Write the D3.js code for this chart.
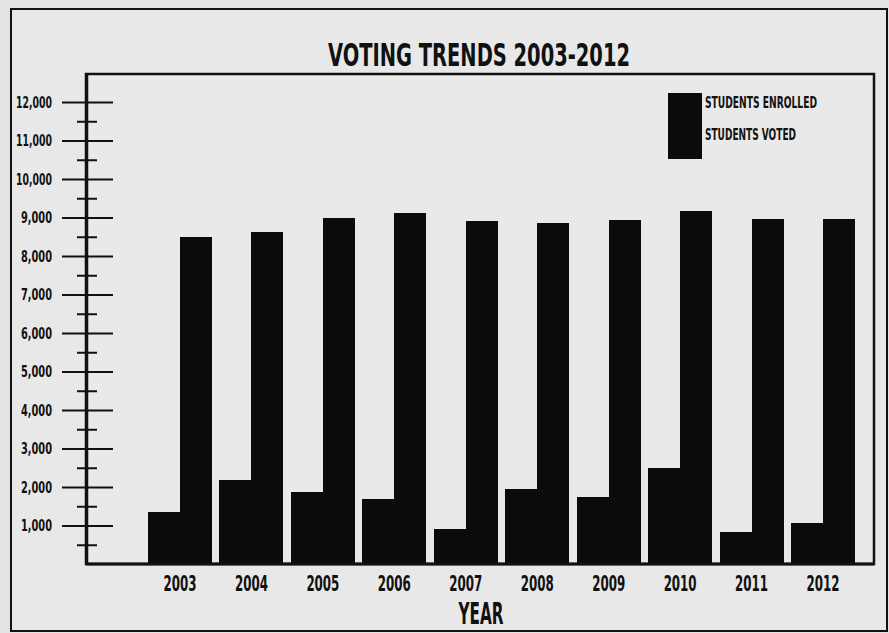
<!DOCTYPE html>
<html>
<head>
<meta charset="utf-8">
<script src="https://cdn.jsdelivr.net/npm/d3@7/dist/d3.min.js"></script>
<style>
  html, body { margin: 0; padding: 0; background: #e3e3e3; }
  svg { display: block; }
  text { font-family: 'Liberation Sans Narrow', 'DejaVu Sans Condensed', 'Roboto', sans-serif; font-weight: bold; fill: #111; }
</style>
</head>
<body>
<script>
// ---- data ----
const years = ["2003","2004","2005","2006","2007","2008","2009","2010","2011","2012"];
const studentsVoted    = [1350, 2180, 1870, 1690, 910, 1950, 1740, 2490, 830, 1065];
const studentsEnrolled = [8490, 8615, 8995, 9110, 8910, 8850, 8935, 9170, 8960, 8960];
const seriesNames = ["STUDENTS ENROLLED", "STUDENTS VOTED"];
const majorTicks = [1000,2000,3000,4000,5000,6000,7000,8000,9000,10000,11000,12000];
const minorTicks = [500,1500,2500,3500,4500,5500,6500,7500,8500,9500,10500,11500];
const title = "VOTING TRENDS 2003-2012";
const xTitle = "YEAR";

const W = 889, H = 633;
const svg = d3.select("body").append("svg").attr("width", W).attr("height", H);

// paper background
svg.append("rect").attr("width", W).attr("height", H).attr("fill", "#e3e3e3");

// outer border
svg.append("rect").attr("x", 11).attr("y", 9).attr("width", 876).attr("height", 622)
  .attr("fill", "#e8e8e8").attr("stroke", "#111").attr("stroke-width", 2);

// plot frame
const plot = {x0: 86, x1: 874, y0: 74, y1: 564};
svg.append("rect").attr("x", plot.x0).attr("y", plot.y0)
  .attr("width", plot.x1 - plot.x0).attr("height", plot.y1 - plot.y0)
  .attr("fill", "#e9e9e9").attr("stroke", "#111").attr("stroke-width", 2.5);

// scales
const y = d3.scaleLinear().domain([0, 12000]).range([564, 102]);
const x = d3.scaleBand().domain(years).range([144.25, 858.75]).paddingInner(0.105).paddingOuter(0.0525);
const xs = d3.scaleBand().domain(["voted", "enrolled"]).range([0, x.bandwidth()]).padding(0);

// bars
const rows = years.map((yr, i) => ({year: yr, voted: studentsVoted[i], enrolled: studentsEnrolled[i]}));
const g = svg.append("g").attr("shape-rendering", "crispEdges");
rows.forEach(r => {
  ["voted", "enrolled"].forEach(k => {
    g.append("rect")
      .attr("x", x(r.year) + xs(k))
      .attr("y", y(r[k]))
      .attr("width", xs.bandwidth() + (k === "voted" ? 1.5 : 0))
      .attr("height", y(0) - y(r[k]))
      .attr("fill", "#0b0b0b");
  });
});

// baseline
svg.append("line").attr("x1", plot.x0).attr("x2", plot.x1).attr("y1", 564).attr("y2", 564)
  .attr("stroke", "#111").attr("stroke-width", 3);

// y axis: major ticks crossing the axis line
const majorAxis = d3.axisRight(y).tickValues(majorTicks).tickSize(51).tickFormat("");
svg.append("g").attr("transform", "translate(62,0)").call(majorAxis)
  .call(s => s.select(".domain").remove())
  .selectAll("line").attr("stroke", "#111").attr("stroke-width", 2);
const minorAxis = d3.axisRight(y).tickValues(minorTicks).tickSize(20).tickFormat("");
svg.append("g").attr("transform", "translate(77,0)").call(minorAxis)
  .call(s => s.select(".domain").remove())
  .selectAll("line").attr("stroke", "#111").attr("stroke-width", 2);
// axis line
svg.append("line").attr("x1", 87).attr("x2", 87).attr("y1", plot.y0).attr("y2", 564)
  .attr("stroke", "#111").attr("stroke-width", 2.5);

// y tick labels
const labelAxis = d3.axisLeft(y).tickValues(majorTicks).tickSize(0).tickPadding(0)
  .tickFormat(d3.format(","));
const yl = svg.append("g").attr("transform", "translate(52,0)").call(labelAxis);
yl.select(".domain").remove();
yl.selectAll("text")
  .attr("font-size", 15).attr("fill", "#111")
  .style("font-family", "'Liberation Sans Narrow', 'DejaVu Sans Condensed', sans-serif")
  .style("font-weight", "bold")
  .attr("dy", "0.36em")
  .attr("textLength", d => d >= 10000 ? 36 : 31)
  .attr("lengthAdjust", "spacingAndGlyphs");

// x tick labels
const xAxis = d3.axisBottom(x).tickSize(0).tickPadding(0);
const xl = svg.append("g").attr("transform", "translate(0,591)").call(xAxis);
xl.select(".domain").remove();
xl.selectAll("text")
  .attr("y", 0).attr("dy", 0)
  .attr("font-size", 21).attr("fill", "#111")
  .style("font-family", "'Liberation Sans Narrow', 'DejaVu Sans Condensed', sans-serif")
  .style("font-weight", "bold")
  .attr("textLength", 33).attr("lengthAdjust", "spacingAndGlyphs");

// title
svg.append("text").attr("x", 479).attr("y", 66).attr("text-anchor", "middle")
  .attr("font-size", 32).attr("textLength", 302).attr("lengthAdjust", "spacingAndGlyphs")
  .text(title);

// x axis title
svg.append("text").attr("x", 481).attr("y", 624).attr("text-anchor", "middle")
  .attr("font-size", 31).attr("textLength", 45).attr("lengthAdjust", "spacingAndGlyphs")
  .text(xTitle);

// legend
const legendLen = [112, 91];
const lg = svg.append("g").attr("transform", "translate(668,93)");
seriesNames.forEach((name, i) => {
  lg.append("rect").attr("x", 0).attr("y", i * 32).attr("width", 34).attr("height", 33.5)
    .attr("fill", "#0b0b0b").attr("shape-rendering", "crispEdges");
  lg.append("text").attr("x", 37).attr("y", 15 + i * 32)
    .attr("font-size", 15).attr("textLength", legendLen[i]).attr("lengthAdjust", "spacingAndGlyphs")
    .text(name);
});
</script>
</body>
</html>
